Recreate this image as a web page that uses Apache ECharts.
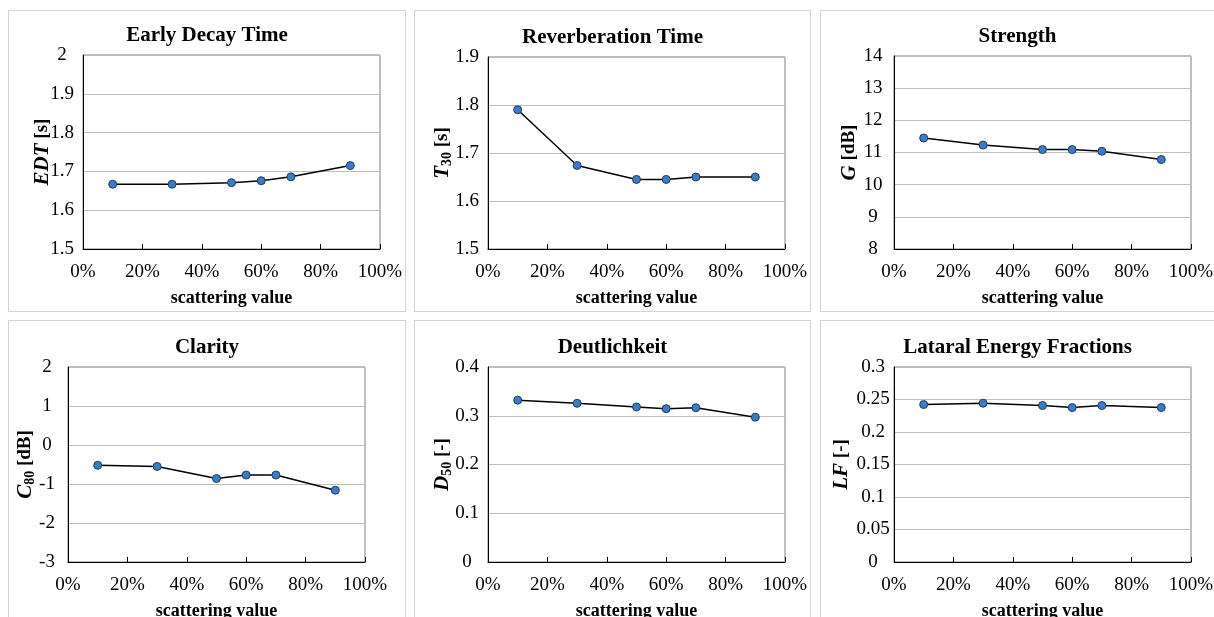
<!DOCTYPE html>
<html>
<head>
<meta charset="utf-8">
<script src="https://cdn.jsdelivr.net/npm/echarts@6/dist/echarts.min.js"></script>
<style>
  html, body { margin: 0; padding: 0; background: #fff; width: 1214px; height: 617px; overflow: hidden; }
  .panel { position: absolute; border: 1px solid #d4d4d4; box-sizing: border-box; background: #fff; }
</style>
</head>
<body>
<div id="p1" class="panel" style="left:8px;top:10px;width:398px;height:302px"></div>
<div id="p2" class="panel" style="left:414px;top:10px;width:397px;height:302px"></div>
<div id="p3" class="panel" style="left:820px;top:10px;width:395px;height:302px"></div>
<div id="p4" class="panel" style="left:8px;top:320px;width:398px;height:310px"></div>
<div id="p5" class="panel" style="left:414px;top:320px;width:397px;height:310px"></div>
<div id="p6" class="panel" style="left:820px;top:320px;width:395px;height:310px"></div>
<script>
// scattering coefficient in percent
const scattering = [10, 30, 50, 60, 70, 90]

const edt = [1.667, 1.667, 1.671, 1.676, 1.686, 1.715]
const t30 = [1.79, 1.674, 1.645, 1.645, 1.65, 1.65]
const strength = [11.45, 11.23, 11.09, 11.09, 11.04, 10.78]
const clarity = [-0.52, -0.55, -0.86, -0.77, -0.77, -1.16]
const deutlichkeit = [0.332, 0.3255, 0.318, 0.3145, 0.3165, 0.297]
const lateral = [0.2423, 0.2443, 0.2407, 0.2376, 0.2407, 0.2376]

const serif = '"Liberation Serif", "Times New Roman", serif'

const panels = [
  { id: 'p1', title: 'Early Decay Time', name: '{v|EDT}{u| [s]}', data: edt, min: 1.5, max: 2, interval: 0.1, left: 74, top: 44, height: 194, nameGap: 30 },
  { id: 'p2', title: 'Reverberation Time', name: '{v|T}{s|30}{u| [s]}', data: t30, min: 1.5, max: 1.9, interval: 0.1, left: 73, top: 46, height: 192, nameGap: 34 },
  { id: 'p3', title: 'Strength', name: '{v|G}{u| [dB]}', data: strength, min: 8, max: 14, interval: 1, left: 73, top: 45, height: 193, nameGap: 34 },
  { id: 'p4', title: 'Clarity', name: '{v|C}{s|80}{u| [dB]}', data: clarity, min: -3, max: 2, interval: 1, left: 59, top: 46, height: 195, nameGap: 31 },
  { id: 'p5', title: 'Deutlichkeit', name: '{v|D}{s|50}{u| [-]}', data: deutlichkeit, min: 0, max: 0.4, interval: 0.1, left: 73, top: 46, height: 195, nameGap: 34 },
  { id: 'p6', title: 'Lataral Energy Fractions', name: '{v|LF}{u| [-]}', data: lateral, min: 0, max: 0.3, interval: 0.05, left: 73, top: 46, height: 195, nameGap: 42 }
]

panels.forEach(p => {
  const chart = echarts.init(document.getElementById(p.id))
  const option = {
    animation: false,
    title: {
      text: p.title,
      left: 'center',
      top: p.top - 35,
      textStyle: { fontFamily: serif, fontWeight: 'bold', fontSize: 21, color: '#000' }
    },
    grid: {
      left: p.left,
      top: p.top,
      width: 297,
      height: p.height,
      outerBoundsMode: 'none',
      show: true,
      borderColor: '#808080',
      borderWidth: 1
    },
    xAxis: {
      type: 'value',
      min: 0,
      max: 100,
      interval: 20,
      name: 'scattering value',
      nameLocation: 'middle',
      nameGap: 40,
      nameMoveOverlap: false,
      nameTextStyle: { fontFamily: serif, fontWeight: 'bold', fontSize: 18, color: '#000' },
      axisLine: { show: true, onZero: false, lineStyle: { color: '#000', width: 1 } },
      axisTick: { show: true, inside: true, length: 5, lineStyle: { color: '#000' } },
      axisLabel: { formatter: '{value}%', fontFamily: serif, fontSize: 19, color: '#000', margin: 14 },
      splitLine: { show: false }
    },
    yAxis: {
      type: 'value',
      min: p.min,
      max: p.max,
      interval: p.interval,
      name: p.name,
      nameLocation: 'middle',
      nameGap: p.nameGap,
      nameMoveOverlap: false,
      nameTextStyle: {
        fontFamily: serif,
        color: '#000',
        rich: {
          v: { fontFamily: serif, fontSize: 21, fontWeight: 'bold', fontStyle: 'italic', color: '#000' },
          s: { fontFamily: serif, fontSize: 14, fontWeight: 'bold', color: '#000', padding: [9, 0, 0, 0] },
          u: { fontFamily: serif, fontSize: 19, fontWeight: 'bold', color: '#000' }
        }
      },
      axisLine: { show: true, onZero: false, lineStyle: { color: '#000', width: 1 } },
      axisTick: { show: false },
      axisLabel: { fontFamily: serif, fontSize: 19, color: '#000', align: 'center', margin: 21 },
      splitLine: { show: true, lineStyle: { color: '#bdbdbd', width: 1 } }
    },
    series: [{
      type: 'line',
      data: scattering.map((x, i) => [x, p.data[i]]),
      symbol: 'circle',
      symbolSize: 8,
      lineStyle: { color: '#000', width: 1.5 },
      itemStyle: { color: '#3f7bbf', borderColor: '#1c3d63', borderWidth: 1 }
    }]
  }
  chart.setOption(option)
})
</script>
</body>
</html>
